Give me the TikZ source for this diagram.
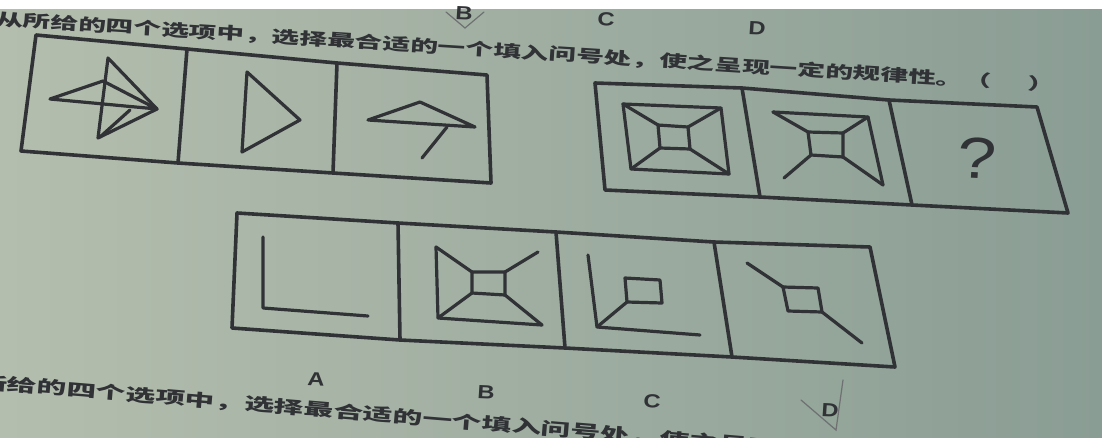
\documentclass[tikz,border=0pt]{standalone}
\usepackage{fontspec}
\setmainfont{Liberation Sans}
\newfontfamily\cjk{Noto Sans CJK SC}
\definecolor{ink}{RGB}{48,50,54}
\definecolor{bgL}{RGB}{180,190,174}
\definecolor{bgR}{RGB}{138,157,148}
\begin{document}
\begin{tikzpicture}[x=1pt,y=-1pt,
  frame/.style={line width=3.6pt, draw=ink, line join=round, line cap=round},
  fig/.style={line width=3.2pt, draw=ink, line join=round, line cap=round},
  pencil/.style={line width=1.2pt, draw=ink!70, line cap=round},
  lbl/.style={font=\fontsize{19}{19}\selectfont\bfseries, text=ink, inner sep=0pt, xscale=1.25},
  cn/.style={font=\cjk\fontsize{16.5}{16.5}\selectfont\bfseries, text=ink, inner sep=0pt, anchor=base west}]
\useasboundingbox (0,0) rectangle (1102,437);
\clip (0,0) rectangle (1102,437);
\shade[left color=bgL, right color=bgR] (0,0) rectangle (1102,437);
\fill[white] (0,0) rectangle (1102,9);

% ---------- texts ----------
\node[cn, rotate=-3.6, xscale=1.68] (q1) at (-5,25) {从所给的四个选项中，选择最合适的一个填入问号处，使之呈现一定的规律性。（\hspace{1.3em}）};
\node[cn, rotate=-4.7, xscale=1.75, font=\cjk\fontsize{17}{17}\selectfont\bfseries] (q2) at (-23,388) {所给的四个选项中，选择最合适的一个填入问号处，使之呈现};

\node[lbl, rotate=-3] (tB) at (464,13) {B};
\node[lbl, rotate=-3] (tC) at (606,19) {C};
\node[lbl, rotate=-3] (tD) at (757,28) {D};
\coordinate (vb1) at (446,12);
\coordinate (vb2) at (465,28);
\coordinate (vb3) at (484,12);
\draw[pencil] (vb1) -- (vb2) -- (vb3);

% ---------- box 1 ----------
\coordinate (a1) at (36,35);  \coordinate (a2) at (187,49);
\coordinate (a3) at (337,63); \coordinate (a4) at (487,75);
\coordinate (a5) at (491,183);\coordinate (a6) at (333,173);
\coordinate (a7) at (178,163);\coordinate (a8) at (21,151);
\draw[frame] (a1) -- (a2) -- (a3) -- (a4) -- (a5) -- (a6) -- (a7) -- (a8) -- cycle;
\draw[frame] (a2) -- (a7);
\draw[frame] (a3) -- (a6);
% cell 1
\coordinate (p1) at (108,58); \coordinate (p2) at (98,138); \coordinate (p3) at (157,109);
\coordinate (p4) at (50,99);  \coordinate (p5) at (103,81);
\coordinate (p6) at (130,110);\coordinate (p7) at (100,137);
\draw[fig] (p1) -- (p2) -- (p3) -- cycle;
\draw[fig] (p4) -- (p5) -- (p3) -- cycle;
\draw[fig] (p6) -- (p7);
% cell 2
\coordinate (r1) at (247,72); \coordinate (r2) at (242,152); \coordinate (r3) at (300,120);
\draw[fig] (r1) -- (r2) -- (r3) -- cycle;
% cell 3
\coordinate (s1) at (368,120); \coordinate (s2) at (420,102); \coordinate (s3) at (475,127);
\coordinate (s4) at (447,127); \coordinate (s5) at (422,158);
\draw[fig] (s1) -- (s2) -- (s3) -- cycle;
\draw[fig] (s4) -- (s5);

% ---------- box 2 ----------
\coordinate (b1) at (595,83);  \coordinate (b2) at (742,88);
\coordinate (b3) at (889,100); \coordinate (b4) at (1037,107);
\coordinate (b5) at (1068,213);\coordinate (b6) at (912,205);
\coordinate (b7) at (760,197); \coordinate (b8) at (605,190);
\draw[frame] (b1) -- (b2) -- (b3) -- (b4) -- (b5) -- (b6) -- (b7) -- (b8) -- cycle;
\draw[frame] (b2) -- (b7);
\draw[frame] (b3) -- (b6);
% cell 1
\coordinate (o1) at (623,104); \coordinate (o2) at (721,108);
\coordinate (o3) at (729,174); \coordinate (o4) at (631,169);
\coordinate (i1) at (658,125); \coordinate (i2) at (688,127);
\coordinate (i3) at (690,149); \coordinate (i4) at (660,148);
\draw[fig] (o1) -- (o2) -- (o3) -- (o4) -- cycle;
\draw[fig] (i1) -- (i2) -- (i3) -- (i4) -- cycle;
\draw[fig] (o1) -- (i1) (o2) -- (i2) (o3) -- (i3) (o4) -- (i4);
% cell 2
\coordinate (m1) at (773,112); \coordinate (m2) at (868,117);
\coordinate (m3) at (883,185); \coordinate (m4) at (784,178);
\coordinate (j1) at (808,132); \coordinate (j2) at (843,133);
\coordinate (j3) at (843,157); \coordinate (j4) at (811,155);
\draw[fig] (m1) -- (m2) -- (m3);
\draw[fig] (j1) -- (j2) -- (j3) -- (j4) -- cycle;
\draw[fig] (m1) -- (j1) (m2) -- (j2) (m3) -- (j3) (m4) -- (j4);
% cell 3
\node[font=\fontsize{58}{58}\selectfont, text=ink, inner sep=0pt, xscale=1.2, rotate=-3] (qm) at (977,158) {?};

% ---------- box 3 (options) ----------
\coordinate (c1) at (237,213); \coordinate (c2) at (398,223);
\coordinate (c3) at (556,232); \coordinate (c4) at (714,242);
\coordinate (c5) at (870,247); \coordinate (c6) at (895,367);
\coordinate (c7) at (732,357); \coordinate (c8) at (565,348);
\coordinate (c9) at (400,340); \coordinate (c10) at (232,328);
\draw[frame] (c1) -- (c2) -- (c3) -- (c4) -- (c5) -- (c6) -- (c7) -- (c8) -- (c9) -- (c10) -- cycle;
\draw[frame] (c2) -- (c9);
\draw[frame] (c3) -- (c8);
\draw[frame] (c4) -- (c7);
% A
\coordinate (A1) at (263,237); \coordinate (A2) at (263,308); \coordinate (A3) at (368,316);
\draw[fig] (A1) -- (A2) -- (A3);
% B
\coordinate (B1) at (436,247); \coordinate (B2) at (438,318); \coordinate (B3) at (542,325);
\coordinate (B4) at (538,252);
\coordinate (k1) at (472,272); \coordinate (k2) at (505,272);
\coordinate (k3) at (505,295); \coordinate (k4) at (472,293);
\draw[fig] (B1) -- (B2) -- (B3);
\draw[fig] (k1) -- (k2) -- (k3) -- (k4) -- cycle;
\draw[fig] (B1) -- (k1) (B4) -- (k2) (B3) -- (k3) (B2) -- (k4);
% C
\coordinate (C1) at (588,255); \coordinate (C2) at (597,327); \coordinate (C3) at (700,335);
\coordinate (l1) at (625,278); \coordinate (l2) at (660,280);
\coordinate (l3) at (662,303); \coordinate (l4) at (627,302);
\draw[fig] (C1) -- (C2) -- (C3);
\draw[fig] (l1) -- (l2) -- (l3) -- (l4) -- cycle;
\draw[fig] (C2) -- (l4);
% D
\coordinate (D1) at (747,263); \coordinate (D2) at (862,343);
\coordinate (n1) at (783,287); \coordinate (n2) at (818,288);
\coordinate (n3) at (822,312); \coordinate (n4) at (788,311);
\draw[fig] (n1) -- (n2) -- (n3) -- (n4) -- cycle;
\draw[fig] (D1) -- (n1) (n3) -- (D2);

% labels
\node[lbl, rotate=-3] (LA) at (316,379) {A};
\node[lbl, rotate=-3] (LB) at (486,392) {B};
\node[lbl, rotate=-3] (LC) at (652,401) {C};
\node[lbl, rotate=-3] (LD) at (830,410) {D};
\coordinate (ck1) at (801,400);
\coordinate (ck2) at (836,430);
\coordinate (ck3) at (843,380);
\draw[pencil] (ck1) -- (ck2) -- (ck3);
\end{tikzpicture}
\end{document}
